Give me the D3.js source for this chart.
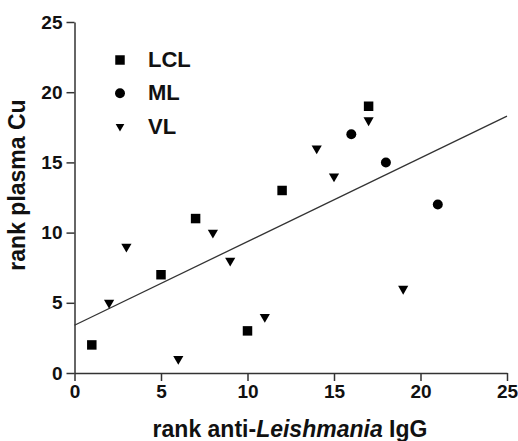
<!DOCTYPE html>
<html>
<head>
<meta charset="utf-8">
<script src="https://cdn.jsdelivr.net/npm/d3@7"></script>
<style>
    body { margin: 0; background: #fff; }
    svg { font-family: 'Liberation Sans', Arial, sans-serif; }
    .axis path, .axis line { stroke: #333; stroke-width: 1.5px; }
    .axis text { font-size: 19px; font-weight: bold; fill: #111; }
</style>
</head>
<body>
<div id="chart"></div>
<script>
// rank anti-Leishmania IgG (x) vs rank plasma Cu (y)
const lclX = [1, 5, 7, 10, 12, 17]
const lclY = [2, 7, 11, 3, 13, 19]
const mlX = [16, 18, 21]
const mlY = [17, 15, 12]
const vlX = [2, 3, 6, 8, 9, 11, 14, 15, 17, 19]
const vlY = [5, 9, 1, 10, 8, 4, 16, 14, 18, 6]
const fitX = [0, 25]
const fitY = [3.4, 18.3]
const xTicks = [0, 5, 10, 15, 20, 25]
const yTicks = [0, 5, 10, 15, 20, 25]
const groups = ['LCL', 'ML', 'VL']

const width = 518, height = 441
const margin = { left: 74.5, top: 22, right: 11, bottom: 68 }
const w = width - margin.left - margin.right
const h = height - margin.top - margin.bottom

const svg = d3.select('#chart').append('svg')
    .attr('width', width)
    .attr('height', height)

const g = svg.append('g')
    .attr('transform', `translate(${margin.left}, ${margin.top})`)

const x = d3.scaleLinear().domain([0, 25]).range([0, w])
const y = d3.scaleLinear().domain([0, 25]).range([h, 0])

g.append('g')
    .attr('class', 'axis')
    .attr('transform', `translate(0, ${h})`)
    .call(d3.axisBottom(x).tickValues(xTicks).tickSize(8).tickSizeOuter(0).tickPadding(4))

g.append('g')
    .attr('class', 'axis')
    .call(d3.axisLeft(y).tickValues(yTicks).tickSize(8).tickSizeOuter(0).tickPadding(4))

g.selectAll('.axis text').attr('font-family', null).attr('font-size', null)

// regression line
const line = d3.line()
    .x(d => x(d[0]))
    .y(d => y(d[1]))
g.append('path')
    .attr('d', line(d3.zip(fitX, fitY)))
    .attr('fill', 'none')
    .attr('stroke', '#333')
    .attr('stroke-width', 1.3)

const shapes = {
    LCL: d3.symbol().type(d3.symbolSquare).size(90),
    ML: d3.symbol().type(d3.symbolCircle).size(78),
    VL: d3.symbol().type(d3.symbolTriangle).size(45)
}
const rot = { LCL: 0, ML: 0, VL: 180 }

const series = [
    ['LCL', d3.zip(lclX, lclY)],
    ['ML', d3.zip(mlX, mlY)],
    ['VL', d3.zip(vlX, vlY)]
]

series.forEach(([name, pts]) => {
    g.selectAll(null)
        .data(pts)
        .enter()
        .append('path')
        .attr('d', shapes[name]())
        .attr('transform', d => `translate(${x(d[0])}, ${y(d[1])}) rotate(${rot[name]})`)
        .attr('fill', '#000')
})

// legend
const legend = svg.append('g')
groups.forEach((name, i) => {
    const ly = 59 + i * 33.3
    legend.append('path')
        .attr('d', shapes[name]())
        .attr('transform', `translate(120, ${ly + 1}) rotate(${rot[name]}) scale(${name === 'VL' ? 0.85 : 1})`)
        .attr('fill', '#000')
    legend.append('text')
        .attr('x', 148)
        .attr('y', ly + 8)
        .attr('font-size', 22)
        .attr('font-weight', 'bold')
        .attr('fill', '#111')
        .text(name)
})

// axis titles
const xt = svg.append('text')
    .attr('x', 290)
    .attr('y', 437)
    .attr('text-anchor', 'middle')
    .attr('font-size', 23)
    .attr('font-weight', 'bold')
    .attr('fill', '#111')
xt.append('tspan').text('rank anti-')
xt.append('tspan').attr('font-style', 'italic').text('Leishmania')
xt.append('tspan').text(' IgG')

svg.append('text')
    .attr('transform', `translate(25, 185) rotate(-90)`)
    .attr('text-anchor', 'middle')
    .attr('font-size', 23)
    .attr('font-weight', 'bold')
    .attr('fill', '#111')
    .text('rank plasma Cu')
</script>
</body>
</html>
